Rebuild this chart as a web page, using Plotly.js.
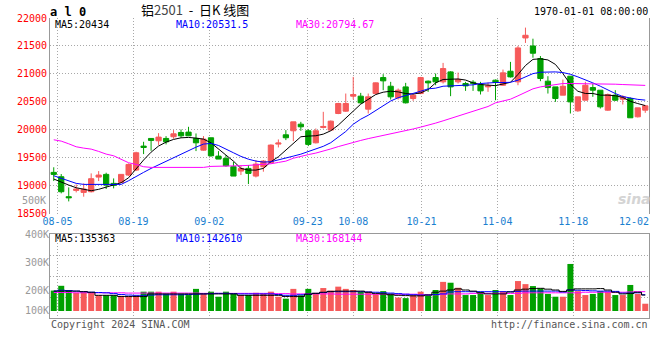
<!DOCTYPE html>
<html><head><meta charset="utf-8">
<script src="https://cdn.plot.ly/plotly-3.0.1.min.js"></script>
<style>html,body{margin:0;padding:0;background:#fff;}#chart{width:660px;height:360px;}</style>
</head><body><div id="chart"></div>
<script>
// ---------- data ----------
const dates = ['08-02','08-05','08-06','08-07','08-08','08-09','08-12','08-13','08-14','08-15',
'08-16','08-19','08-20','08-21','08-22','08-23','08-26','08-27','08-28','08-29',
'08-30','09-02','09-03','09-04','09-05','09-06','09-09','09-10','09-11','09-12',
'09-13','09-18','09-19','09-20','09-23','09-24','09-25','09-26','09-27','09-30',
'10-08','10-09','10-10','10-11','10-14','10-15','10-16','10-17','10-18','10-21',
'10-22','10-23','10-24','10-25','10-28','10-29','10-30','10-31','11-01','11-04',
'11-05','11-06','11-07','11-08','11-11','11-12','11-13','11-14','11-15','11-18',
'11-19','11-20','11-21','11-22','11-25','11-26','11-27','11-28','11-29','12-02'];
const open = [19239,19161,18804,18917,18881,18893,19155,19203,19042,19060,
19191,19280,19709,19846,19804,19846,19876,19953,19959,19846,
19637,19858,19530,19489,19340,19262,19310,19173,19340,19411,
19745,19911,19983,20101,19983,19768,20042,19995,20292,20334,
20602,20602,20370,20649,20935,20780,20572,20768,20560,20649,
20870,20935,20858,21036,20858,20828,20852,20810,20768,20888,
20798,21048,20858,21643,21500,21275,20870,20768,20620,20959,
20340,20530,20756,20709,20352,20620,20548,20560,20233,20352];
const high = [19330,19209,18971,19024,19042,19221,19262,19233,19131,19210,
19399,19608,19786,19850,19941,19887,19995,20007,20054,19935,
19888,19858,19620,19548,19429,19370,19370,19459,19459,19739,
19828,19995,20143,20143,20007,20024,20322,20167,20483,20649,
20947,20661,20649,20846,20995,20858,20739,20840,20649,20947,
20882,21007,21197,21048,21024,20858,20888,20858,20846,20900,
21078,21215,21501,21828,21630,21320,20959,20768,20899,20959,
20590,20858,20828,20709,20649,20709,20620,20578,20393,20441];
const low = [19084,18864,18720,18881,18804,18880,19084,18941,18953,19050,
19173,19262,19566,19625,19730,19739,19840,19858,19893,19620,
19626,19518,19477,19340,19173,19191,19030,19149,19251,19399,
19685,19816,19798,19983,19709,19757,20024,19983,20280,20322,
20542,20471,20292,20632,20709,20542,20542,20471,20518,20637,
20679,20798,20828,20602,20828,20697,20697,20632,20679,20530,
20786,20935,20798,21554,21290,20870,20649,20500,20620,20292,
20322,20530,20590,20381,20340,20518,20453,20215,20221,20304];
const close = [19203,18893,18786,18941,18941,19126,19191,19012,19007,19203,
19381,19590,19685,19810,19870,19786,19929,19893,19893,19768,
19834,19536,19477,19358,19173,19310,19221,19387,19441,19727,
19763,19858,20143,20054,19739,19983,20060,20155,20471,20471,
20632,20483,20590,20840,20876,20590,20709,20483,20620,20935,
20840,20858,21096,20768,20900,20786,20834,20697,20786,20846,
21019,20947,21465,21691,21370,20918,20756,20560,20780,20500,
20590,20798,20709,20411,20631,20530,20590,20215,20393,20429];
const ma5 = [19120,19060,19012,18964,18936,18911,18936,18977,19007,19054,
19143,19310,19460,19600,19710,19780,19828,19857,19864,19852,
19834,19768,19650,19548,19440,19310,19280,19280,19310,19429,
19518,19637,19745,19876,19888,19894,19923,19983,20084,20203,
20334,20459,20542,20631,20673,20691,20679,20649,20640,20660,
20720,20840,20900,20910,20910,20890,20840,20810,20800,20790,
20820,20850,20990,21150,21260,21270,21250,21170,21006,20815,
20690,20650,20650,20620,20620,20610,20580,20510,20470,20434];
const ma10 = [19179,19132,19084,19042,19024,19024,19024,19019,19013,19024,
19090,19170,19239,19310,19375,19440,19501,19560,19620,19690,
19745,19757,19720,19660,19590,19525,19475,19441,19423,19429,
19459,19489,19530,19565,19610,19650,19705,19770,19870,19970,
20100,20190,20260,20340,20420,20515,20575,20610,20645,20690,
20733,20745,20780,20786,20786,20792,20804,20828,20840,20846,
20846,20850,20888,20947,21005,21030,21036,21036,21024,20994,
20947,20899,20840,20780,20709,20649,20595,20565,20545,20531.5];
const ma30 = [19822,19798,19750,19697,19673,19655,19614,19566,19536,19477,
19411,19381,19340,19328,19328,19328,19328,19328,19328,19328,
19328,19346,19346,19352,19352,19358,19364,19370,19382,19393,
19417,19440,19492,19528,19557,19584,19617,19658,19700,19741,
19778,19810,19843,19870,19900,19929,19959,19986,20015,20048,
20078,20120,20161,20203,20251,20286,20328,20370,20417,20483,
20513,20548,20608,20670,20733,20768,20792,20810,20828,20828,
20828,20828,20828,20822,20822,20816,20810,20804,20798,20794.67];
const volume = [198000,215000,200000,190000,192000,190000,181000,181000,181000,179000,
177000,180000,194000,194000,194000,186000,194000,186000,182000,204000,
186000,194000,176000,194000,186000,182000,182000,190000,186000,194000,
176000,169000,204000,181000,204000,190000,207000,198000,212000,204000,
200000,194000,194000,186000,196000,188000,173000,171000,182000,194000,
179000,200000,229000,226000,208000,182000,182000,194000,182000,200000,
196000,182000,232000,221000,214000,206000,186000,176000,176000,293000,
196000,182000,186000,196000,194000,182000,182000,218000,186000,151000];
const volMa5 = [196000,196000,196000,196000,194000,192000,181000,181000,181000,177000,
177000,177000,177000,186000,186000,186000,186000,186000,186000,186000,
186000,186000,186000,186000,186000,181000,181000,181000,181000,181000,
181000,177000,177000,177000,185000,188000,192000,195000,196000,196000,
196000,196000,192000,188000,186000,183000,181000,180000,179000,179000,
182000,192000,196000,200000,204000,200000,196000,190000,186000,186000,
186000,193000,200000,203000,205000,206000,203000,200000,195000,200000,
204000,204000,204000,205000,200000,192000,186000,188000,192000,182000];
const volMa10 = [196000,199000,198000,196000,194000,192000,191000,190000,187000,184000,
182000,181000,181000,182000,183000,183000,183000,183000,184000,185000,
186000,187000,188000,188000,187000,186000,186000,186000,186000,186000,
184000,181000,181000,183000,185000,188000,191000,194000,194000,194000,
194000,194000,193000,192000,190000,189000,187000,185000,183000,182000,
182000,184000,186000,193000,194000,194000,194000,194000,194000,194000,
194000,194000,195000,196000,196000,196000,196000,196000,193000,200000,
199000,198000,197000,196000,196000,195000,189000,189000,190000,183000];
const volMa30 = [191000,191000,191000,190000,190000,190000,190000,190000,190000,190000,
189000,189000,189000,189000,189000,189000,189000,189000,189000,189000,
188000,188000,188000,188000,188000,188000,188000,188000,188000,188000,
187000,187000,186000,186000,186000,186000,186000,186000,185000,185000,
185000,185000,185000,185000,185000,185000,185000,185000,185000,183000,
183000,183000,185000,186000,186000,186000,188000,188000,188000,188000,
188000,188000,188000,190000,190000,190000,190000,190000,190000,190000,
190000,192000,192000,192000,192000,192000,192000,193000,194000,194000];
const labelDates = ['08-05','08-19','09-02','09-23','10-08','10-21','11-04','11-18','12-02'];
const priceTicks = [18500,19000,19500,20000,20500,21000,21500,22000];
const volTickVals = [100000,200000,300000,400000];
const volTickText = ['100K','200K','300K','400K'];
const volMaText = ['MA5:135363','MA10:142610','MA30:168144'];
const VOL_BASE = 125000;
const symbolText = 'a l 0';
const titleText = '铝<span style="color:#444">2501</span>\u00a0\u00a0-\u00a0\u00a0日K\u00a0线图';
const timeText = '1970-01-01 08:00:00';
const hiddenVolLabel = '500K';
const copyText = 'Copyright 2024 SINA.COM';
const urlText = 'http://finance.sina.com.cn';

// ---------- styles ----------
const RED = '#f65a5a', GREEN = '#00a000';
const MONO = 'DejaVu Sans Mono';
const GRID = '#a8a8a8', FRAME = '#999999';
const N = dates.length;
const idx = dates.map((d, i) => i);
// Sina spaces its date grid over N-1 slots while candles use N slots
const gridPos = labelDates.map(d => dates.indexOf(d) * N / (N - 1) - 0.5);
const mainGridPos = gridPos.slice(0, -1);
const volColors = close.map((c, i) => c >= open[i] ? RED : GREEN);

const px2x = p => (p - 50) / 599;
const py2y = p => (318 - p) / 300;

const traces = [
  {type:'candlestick', x: idx, open, high, low, close, xaxis:'x', yaxis:'y',
   increasing:{line:{color:RED,width:1}, fillcolor:RED},
   decreasing:{line:{color:GREEN,width:1}, fillcolor:GREEN},
   whiskerwidth:0, hoverinfo:'skip', showlegend:false},
  {type:'scatter', mode:'lines', x: idx, y: ma5, xaxis:'x', yaxis:'y', line:{color:'#000000', width:1}, hoverinfo:'skip', showlegend:false},
  {type:'scatter', mode:'lines', x: idx, y: ma10, xaxis:'x', yaxis:'y', line:{color:'#0000ff', width:1}, hoverinfo:'skip', showlegend:false},
  {type:'scatter', mode:'lines', x: idx, y: ma30, xaxis:'x3', yaxis:'y', line:{color:'#ff00ff', width:1}, hoverinfo:'skip', showlegend:false},
  {type:'bar', x: idx, y: volume.map(v => v - VOL_BASE), base: VOL_BASE, xaxis:'x2', yaxis:'y2',
   marker:{color: volColors, line:{width:0}}, hoverinfo:'skip', showlegend:false},
  {type:'scatter', mode:'lines', x: idx, y: volMa30, xaxis:'x2', yaxis:'y2', line:{color:'#ff00ff', width:1, shape:'hvh'}, hoverinfo:'skip', showlegend:false},
  {type:'scatter', mode:'lines', x: idx, y: volMa10, xaxis:'x2', yaxis:'y3', line:{color:'#0000ff', width:1, shape:'hvh'}, hoverinfo:'skip', showlegend:false},
  {type:'scatter', mode:'lines', x: idx, y: volMa5, xaxis:'x2', yaxis:'y4', line:{color:'#000000', width:1, shape:'hvh'}, hoverinfo:'skip', showlegend:false}
];

const xr = [-0.5, N - 0.5];
const tickFontX = {family: MONO, size: 10, color: '#1a80d0'};
const volFont = {family: MONO, size: 10, color: '#999999'};
const layout = {
  width: 660, height: 360,
  margin: {l: 50, r: 11, t: 18, b: 42, pad: 0},
  paper_bgcolor: '#ffffff', plot_bgcolor: '#ffffff',
  font: {family: MONO, size: 10, color: '#000'},
  showlegend: false, hovermode: false, dragmode: false,
  boxgap: 0.3, boxgroupgap: 0, bargap: 0.2,
  xaxis: {domain:[0,1], anchor:'y', range: xr, rangeslider:{visible:false},
    tickmode:'array', tickvals: mainGridPos, ticktext: labelDates.slice(0, -1),
    tickfont: tickFontX, ticks:'', showgrid:true, gridcolor: GRID, griddash:'1px,2px', gridwidth:1,
    zeroline:false, showline:false, fixedrange:true},
  xaxis3: {overlaying:'x', anchor:'y', side:'bottom', range: xr,
    tickmode:'array', tickvals: gridPos.slice(-1), ticktext: labelDates.slice(-1),
    ticklabelposition:'outside left', tickfont: tickFontX, ticks:'',
    showgrid:false, zeroline:false, showline:false, fixedrange:true},
  yaxis: {domain:[(318-213.7)/300, 1], anchor:'x', range:[18500, 22000],
    tickmode:'array', tickvals: priceTicks, ticktext: priceTicks.map(String),
    tickfont:{family: MONO, size: 10, color:'#ff0000'}, ticks:'',
    showgrid:true, gridcolor: GRID, griddash:'1px,2px', gridwidth:1,
    zeroline:false, showline:true, linecolor: FRAME, linewidth:1, mirror:true, fixedrange:true},
  xaxis2: {domain:[0,1], anchor:'y2', range: xr,
    tickmode:'array', tickvals: mainGridPos, showticklabels:false, ticks:'',
    showgrid:true, gridcolor: GRID, griddash:'1px,2px', gridwidth:1,
    zeroline:false, showline:true, linecolor: FRAME, linewidth:1, mirror:true, fixedrange:true},
  yaxis2: {domain:[0, 84/300], anchor:'x2', range:[100000, 400000],
    tickmode:'array', tickvals:[175000, 250000, 325000], showticklabels:false, ticks:'',
    showgrid:true, gridcolor: GRID, griddash:'1px,2px', gridwidth:1,
    zeroline:false, showline:true, linecolor: FRAME, linewidth:1, mirror:true, fixedrange:true},
  yaxis3: {overlaying:'y2', anchor:'x2', side:'left', range:[100000, 400000],
    tickmode:'array', tickvals: volTickVals.slice(1), ticktext: volTickText.slice(1),
    tickfont: volFont, ticks:'', showgrid:false, zeroline:false, showline:false, fixedrange:true},
  yaxis4: {overlaying:'y2', anchor:'x2', side:'left', range:[100000, 400000],
    tickmode:'array', tickvals: volTickVals.slice(0,1), ticktext: volTickText.slice(0,1),
    ticklabelshift: -8,
    tickfont: volFont, ticks:'', showgrid:false, zeroline:false, showline:false, fixedrange:true},
  annotations: [
    {xref:'paper', yref:'paper', x:px2x(48), y:py2y(12), xanchor:'left', yanchor:'middle', showarrow:false,
     text:'<b>'+symbolText+'</b>', font:{family: MONO, size: 12, color:'#000'}},
    {xref:'paper', yref:'paper', x:px2x(139), y:py2y(9.5), xanchor:'left', yanchor:'middle', showarrow:false,
     text: titleText, font:{family:'Noto Sans CJK SC', size: 13, color:'#000'}},
    {xref:'paper', yref:'paper', x:px2x(650), y:py2y(11.5), xanchor:'right', yanchor:'middle', showarrow:false,
     text: timeText, font:{family: MONO, size: 10, color:'#000'}},
    {xref:'paper', yref:'paper', x:px2x(53), y:py2y(24), xanchor:'left', yanchor:'middle', showarrow:false,
     text:'MA5:' + ma5[N-1], font:{family: MONO, size: 10, color:'#000000'}},
    {xref:'paper', yref:'paper', x:px2x(174), y:py2y(24), xanchor:'left', yanchor:'middle', showarrow:false,
     text:'MA10:' + ma10[N-1], font:{family: MONO, size: 10, color:'#0000ff'}},
    {xref:'paper', yref:'paper', x:px2x(294), y:py2y(24), xanchor:'left', yanchor:'middle', showarrow:false,
     text:'MA30:' + ma30[N-1], font:{family: MONO, size: 10, color:'#ff00ff'}},
    {xref:'paper', yref:'paper', x:px2x(53), y:py2y(238), xanchor:'left', yanchor:'middle', showarrow:false,
     text: volMaText[0], font:{family: MONO, size: 10, color:'#000000'}},
    {xref:'paper', yref:'paper', x:px2x(174), y:py2y(238), xanchor:'left', yanchor:'middle', showarrow:false,
     text: volMaText[1], font:{family: MONO, size: 10, color:'#0000ff'}},
    {xref:'paper', yref:'paper', x:px2x(294), y:py2y(238), xanchor:'left', yanchor:'middle', showarrow:false,
     text: volMaText[2], font:{family: MONO, size: 10, color:'#ff00ff'}},
    {xref:'paper', yref:'paper', x:px2x(48), y:py2y(200), xanchor:'right', yanchor:'middle', showarrow:false,
     text: hiddenVolLabel, font:{family: MONO, size: 10, color:'#999999'}},
    {xref:'paper', yref:'paper', x:px2x(49), y:py2y(324), xanchor:'left', yanchor:'middle', showarrow:false,
     text: copyText, font:{family: MONO, size: 10, color:'#555555'}},
    {xref:'paper', yref:'paper', x:px2x(650), y:py2y(324), xanchor:'right', yanchor:'middle', showarrow:false,
     text: urlText, font:{family: MONO, size: 10, color:'#555555'}},
    {xref:'paper', yref:'paper', x:px2x(634), y:py2y(199), xanchor:'center', yanchor:'middle', showarrow:false,
     text:'<b><i>sina</i></b>', font:{family:'DejaVu Sans', size: 14, color:'#d4d4d4'}}
  ]
};
Plotly.newPlot('chart', traces, layout, {staticPlot:true, displayModeBar:false});
</script></body></html>
